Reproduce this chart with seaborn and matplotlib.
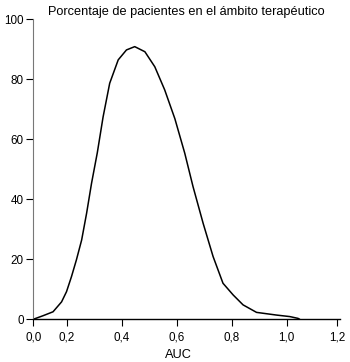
import matplotlib
matplotlib.use("Agg")
import matplotlib.pyplot as plt
import seaborn as sns
import pandas as pd

# curva (AUC, % de pacientes)
auc = [0.079, 0.115, 0.151, 0.182, 0.200, 0.218, 0.236, 0.255, 0.273, 0.291,
       0.312, 0.333, 0.357, 0.388, 0.418, 0.448, 0.485, 0.521, 0.557,
       0.594, 0.630, 0.660, 0.697, 0.733, 0.769, 0.806, 0.842, 0.891, 0.964,
       1.012, 1.042, 1.048]
pct = [0.0, 1.2, 2.5, 5.8, 9.2, 14.2, 19.8, 26.4, 35.3, 45.3,
       55.5, 67.4, 78.6, 86.4, 89.7, 90.8, 89.1, 84.1, 76.4,
       66.8, 55.3, 44.2, 31.9, 20.9, 12.0, 8.1, 4.8, 2.3, 1.4,
       0.9, 0.3, 0.0]

# ticks del eje x tal como aparecen (el eje original no es lineal en los extremos)
xtick_pos = [0.079, 0.2, 0.4, 0.6, 0.8, 1.0, 1.185]
xtick_lab = ["0,0", "0,2", "0,4", "0,6", "0,8", "1,0", "1,2"]
ytick_pos = [0, 20, 40, 60, 80, 100]

df = pd.DataFrame({"AUC": auc, "pct": pct})

sns.set_style("ticks")
plt.rcParams["font.family"] = ["Liberation Sans", "DejaVu Sans"]
plt.rcParams["text.color"] = "black"
plt.rcParams["axes.labelcolor"] = "black"

fig = plt.figure(figsize=(3.5, 3.62), dpi=100)
ax = fig.add_axes([0.095, 0.118, 0.876, 0.8295])

sns.lineplot(data=df, x="AUC", y="pct", color="black", linewidth=1.1, ax=ax)

ax.set_xlim(0.079, 1.194)
ax.set_ylim(0, 100)
ax.set_xticks(xtick_pos)
ax.set_xticklabels(xtick_lab)
ax.set_yticks(ytick_pos)
ax.tick_params(axis="both", labelsize=8.4, length=5, width=0.8, colors="black")
ax.tick_params(axis="y", pad=2)
ax.tick_params(axis="x", pad=4)

sns.despine(ax=ax)
ax.spines["left"].set_color("#777777")
ax.spines["left"].set_linewidth(0.8)
ax.spines["bottom"].set_color("black")
ax.spines["bottom"].set_linewidth(1.0)

ax.set_xlabel("AUC", fontsize=9.2)
ax.xaxis.set_label_coords(0.473, -0.1)
ax.set_ylabel("")
ax.set_title("Porcentaje de pacientes en el ámbito terapéutico", fontsize=9.2, pad=3)

fig.savefig("out.png", dpi=100)
